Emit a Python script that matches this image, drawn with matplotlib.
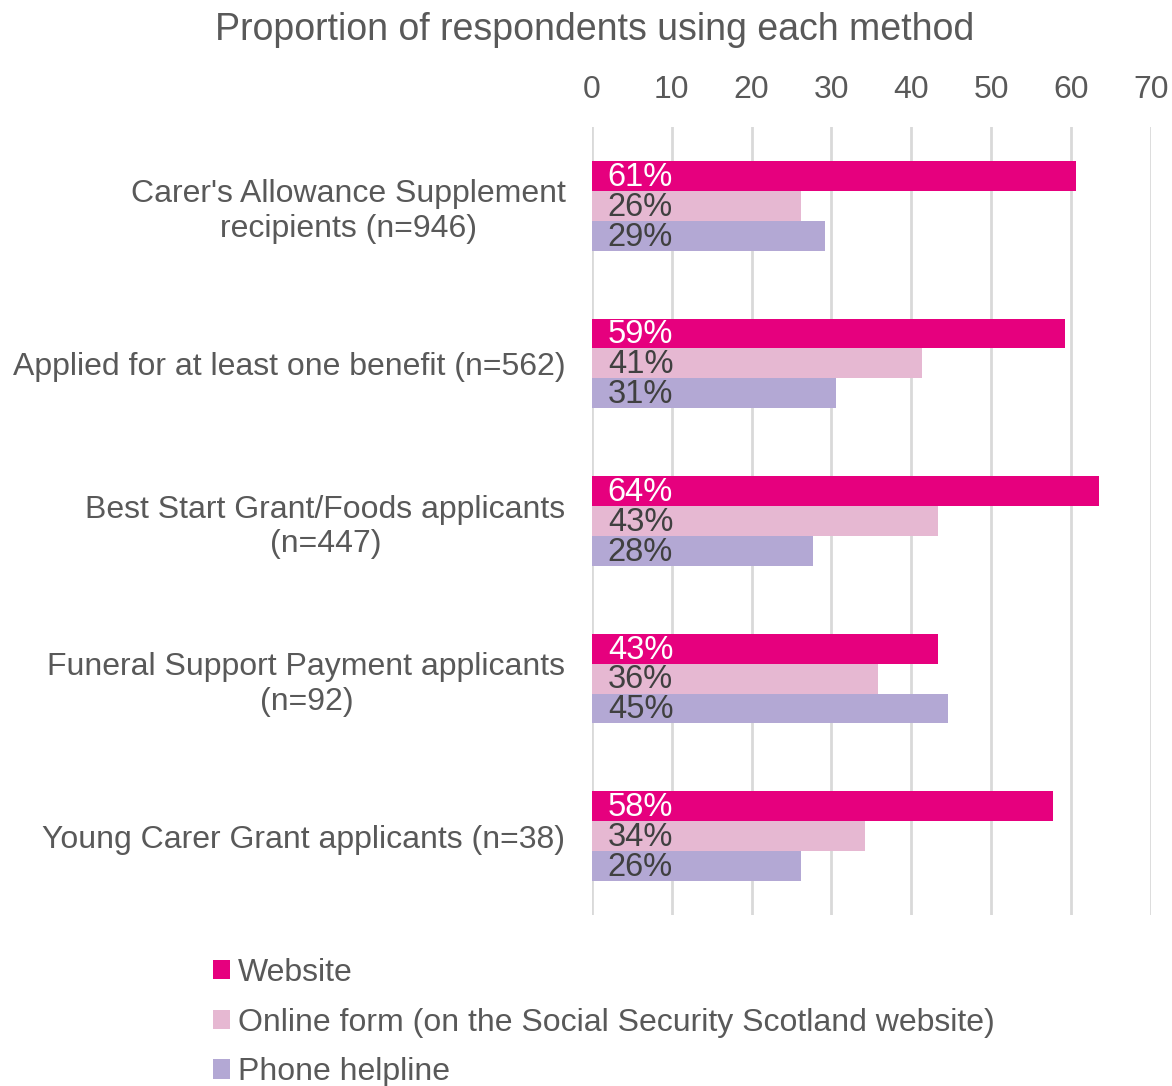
import numpy as np
import matplotlib.pyplot as plt

plt.rcParams['font.family'] = ['Liberation Sans', 'DejaVu Sans']

categories = ["Carer's Allowance Supplement\nrecipients (n=946)",
              "Applied for at least one benefit (n=562)",
              "Best Start Grant/Foods applicants\n(n=447)",
              "Funeral Support Payment applicants\n(n=92)",
              "Young Carer Grant applicants (n=38)"]
series = ["Website",
          "Online form (on the Social Security Scotland website)",
          "Phone helpline"]
website = [60.6, 59.3, 63.5, 43.4, 57.8]
online_form = [26.2, 41.4, 43.3, 35.8, 34.2]
phone = [29.2, 30.6, 27.7, 44.6, 26.2]
colors = ['#e6007e', '#e6b8d2', '#b3a8d4']
label_colors = ['white', '#404040', '#404040']

fig = plt.figure(figsize=(11.72, 10.86), dpi=100)
ax = fig.add_axes([0.505, 0.1575, 0.477, 0.7255])

y = np.arange(len(categories))
h = 0.19
handles = []
for i, (vals, name) in enumerate(zip([website, online_form, phone], series)):
    pos = y + (i - 1) * h
    b = ax.barh(pos, vals, height=h, color=colors[i], label=name, zorder=3)
    handles.append(b)
    for p, v in zip(pos, vals):
        ax.annotate(f"{round(v)}%", xy=(0, p), xytext=(11.5, -1), textcoords='offset points',
                    va='center', ha='left', fontsize=23.5, color=label_colors[i], zorder=4)

ax.set_xlim(0, 70)
ax.set_ylim(4.5, -0.5)
ax.set_xticks(range(0, 71, 10))
ax.xaxis.tick_top()
ax.tick_params(axis='x', length=0, labelsize=23, labelcolor='#595959', pad=16)
ax.set_yticks(y)
ax.set_yticklabels(categories)
ax.tick_params(axis='y', length=0, labelsize=23, labelcolor='#595959', pad=19)
for lab in ax.get_yticklabels():
    lab.set_multialignment('center')
ax.grid(axis='x', color='#d9d9d9', linewidth=2, zorder=0)
for s in ax.spines.values():
    s.set_visible(False)

fig.text(595 / 1172, 1 - 30 / 1086, "Proportion of respondents using each method",
         ha='center', va='center', fontsize=27, color='#595959')

fig.legend(handles=handles, labels=series, loc='upper left',
           bbox_to_anchor=(200 / 1172, 1 - 945 / 1086), frameon=False,
           fontsize=23, labelcolor='#595959', handlelength=0.55, handleheight=0.55,
           handletextpad=0.25, labelspacing=0.62, borderaxespad=0)

fig.savefig('out.png', dpi=100)
